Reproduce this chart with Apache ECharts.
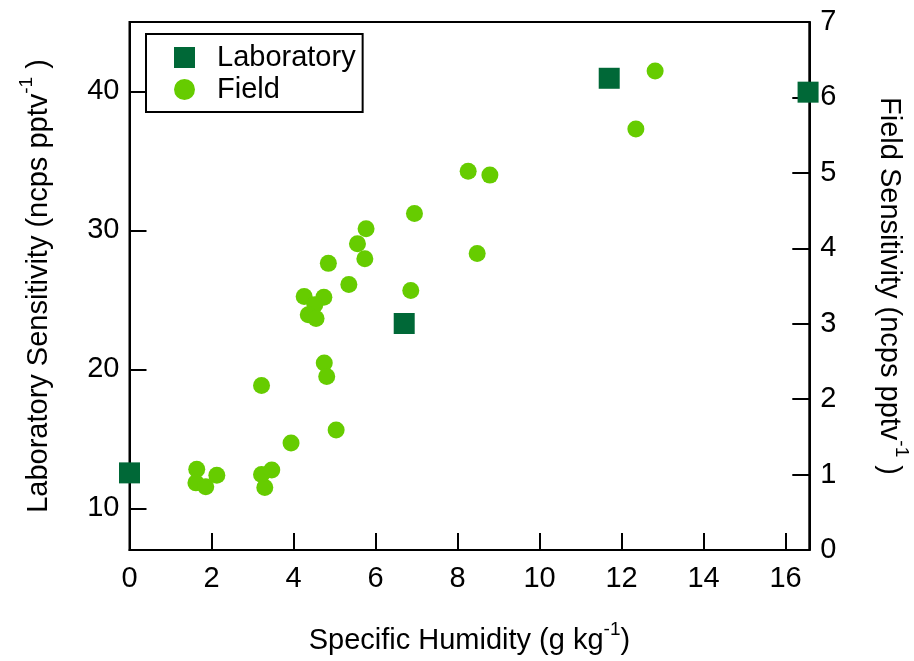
<!DOCTYPE html>
<html>
<head>
<meta charset="utf-8">
<script src="https://cdn.jsdelivr.net/npm/echarts@6/dist/echarts.min.js"></script>
<style>
html,body{margin:0;padding:0;background:#fff;}
#c{width:914px;height:661px;}
</style>
</head>
<body>
<div id="c"></div>
<script>
const labX = [0, 6.70, 11.70, 16.55];
const labY = [12.55, 23.3, 40.95, 39.95];

const fieldX = [12.82, 12.35, 8.26, 8.79, 6.95, 5.77, 5.56, 5.74, 4.85, 5.35, 4.26, 4.74, 4.52, 4.36, 4.55, 6.86, 8.48, 4.75, 4.81, 3.22, 5.04, 3.94, 1.64, 1.62, 1.86, 2.13, 3.22, 3.47, 3.30];
const fieldY = [6.35, 5.58, 5.02, 4.97, 4.46, 4.26, 4.06, 3.86, 3.80, 3.52, 3.36, 3.35, 3.25, 3.12, 3.07, 3.44, 3.93, 2.48, 2.30, 2.18, 1.59, 1.42, 1.07, 0.89, 0.84, 0.99, 1.00, 1.06, 0.83];

const xTickLabels = [0, 2, 4, 6, 8, 10, 12, 14, 16];
const leftTickLabels = [10, 20, 30, 40];
const rightTickLabels = [0, 1, 2, 3, 4, 5, 6, 7];

const FONT = "'Liberation Sans', Arial, sans-serif";
const rich = {
  t: { fontSize: 29, fontFamily: FONT, color: '#000', lineHeight: 42 },
  s: { fontSize: 19, fontFamily: FONT, color: '#000', lineHeight: 19, verticalAlign: 'top' }
};
function fmt(list) {
  return function (v) {
    for (const t of list) { if (Math.abs(v - t) < 1e-6) return String(t); }
    return '';
  };
}

const chart = echarts.init(document.getElementById('c'), null, { renderer: 'canvas' });
chart.setOption({
  animation: false,
  backgroundColor: '#fff',
  textStyle: { fontFamily: FONT },
  grid: {
    left: 129.5, right: 104.7, top: 22, bottom: 111,
    containLabel: false, outerBoundsMode: 'none',
    show: true, borderColor: '#000', borderWidth: 2, backgroundColor: 'transparent'
  },
  legend: {
    orient: 'vertical',
    left: 146, top: 34,
    padding: [9, 7, 8, 28],
    itemGap: 3,
    itemWidth: 21, itemHeight: 21,
    borderColor: '#000', borderWidth: 2, borderRadius: 0,
    backgroundColor: '#fff',
    textStyle: { fontSize: 29, color: '#000', fontFamily: FONT, padding: [0, 0, 0, 17] },
    data: [
      { name: 'Laboratory', icon: 'rect' },
      { name: 'Field', icon: 'circle' }
    ]
  },
  xAxis: {
    type: 'value', min: 0, max: 16.58, interval: 2,
    name: '{t|Specific Humidity (g kg}{s|-1}{t|)}',
    nameLocation: 'middle', nameGap: 70,
    nameTextStyle: { rich: rich },
    axisLine: { show: true, lineStyle: { color: '#000', width: 2 } },
    axisTick: { show: true, inside: true, length: 17, lineStyle: { color: '#000', width: 2 } },
    axisLabel: { margin: 14, fontSize: 29, color: '#000', fontFamily: FONT, formatter: fmt(xTickLabels) },
    splitLine: { show: false }
  },
  yAxis: [
    {
      type: 'value', min: 7, max: 45, splitNumber: 4, position: 'left',
      name: '{t|Laboratory Sensitivity (ncps pptv}{s|-1}{t| )}',
      nameLocation: 'middle', nameGap: 70, nameRotate: 90,
      nameTextStyle: { rich: rich },
      axisLine: { show: true, lineStyle: { color: '#000', width: 2 } },
      axisTick: { show: true, inside: true, length: 17, lineStyle: { color: '#000', width: 2 } },
      axisLabel: { margin: 10, fontSize: 29, color: '#000', fontFamily: FONT, formatter: fmt(leftTickLabels) },
      splitLine: { show: false }
    },
    {
      type: 'value', min: 0, max: 7, interval: 1, position: 'right',
      name: '{t|Field Sensitivity (ncps pptv}{s|-1}{t| )}',
      nameLocation: 'middle', nameGap: 59, nameRotate: -90,
      nameTextStyle: { rich: rich },
      axisLine: { show: true, lineStyle: { color: '#000', width: 2 } },
      axisTick: { show: true, inside: true, length: 17, lineStyle: { color: '#000', width: 2 } },
      axisLabel: { margin: 11, fontSize: 29, color: '#000', fontFamily: FONT, formatter: fmt(rightTickLabels) },
      splitLine: { show: false }
    }
  ],
  series: [
    {
      name: 'Field', type: 'scatter', yAxisIndex: 1,
      symbol: 'circle', symbolSize: 17, clip: false,
      itemStyle: { color: '#66cc00', opacity: 1 },
      data: fieldX.map((x, i) => [x, fieldY[i]]),
      z: 3
    },
    {
      name: 'Laboratory', type: 'scatter', yAxisIndex: 0,
      symbol: 'rect', symbolSize: 21, clip: false,
      itemStyle: { color: '#006837', opacity: 1 },
      data: labX.map((x, i) => [x, labY[i]]),
      z: 4
    }
  ]
});
</script>
</body>
</html>
